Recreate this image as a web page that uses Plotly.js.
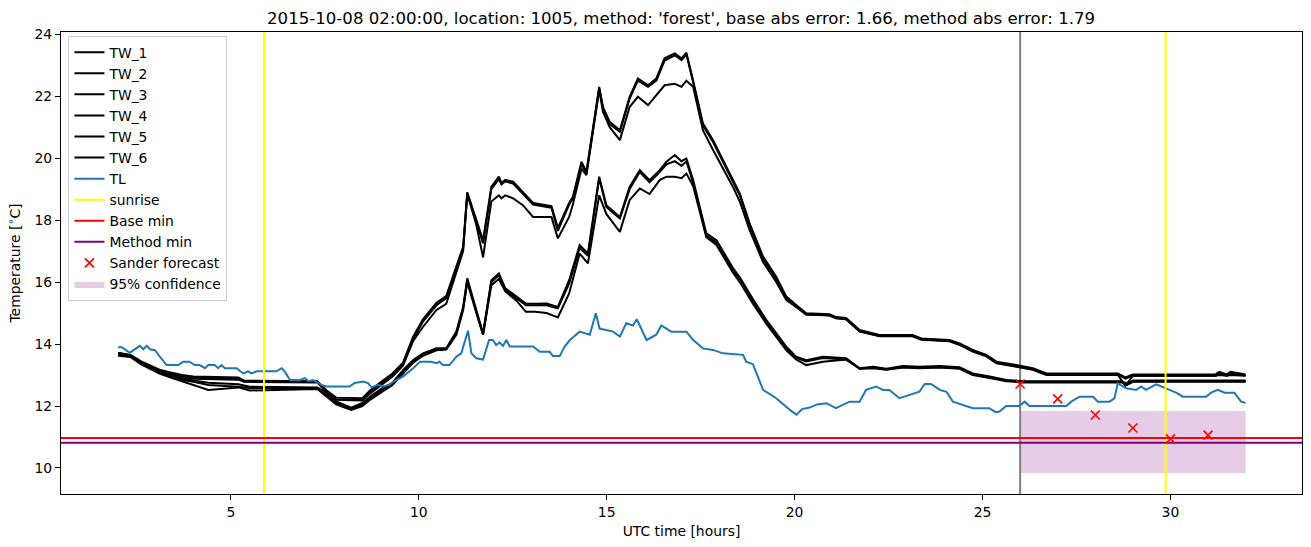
<!DOCTYPE html>
<html>
<head>
<meta charset="utf-8">
<script src="https://cdn.plot.ly/plotly-3.0.1.min.js"></script>
<style>html,body{margin:0;padding:0;background:#fff;}#chart{width:1311px;height:547px;}</style>
</head>
<body>
<div id="chart"></div>
<script>
// ---- group A (upper three TW sensors) vertex times [h]
const twHoursA = [
 2.0,2.33,2.6,2.85,3.1,3.4,3.7,4.0,5.2,5.35,
 7.3,7.55,7.8,8.5,8.7,9.0,9.3,9.58,9.85,10.11,
 10.47,10.73,11.0,11.18,11.29,11.53,11.71,11.93,12.13,12.2,
 12.3,12.51,12.77,13.04,13.53,13.7,14.0,14.1,14.33,14.46,
 14.8,14.9,15.08,15.35,15.61,15.83,16.1,16.32,16.54,16.81,
 16.99,17.12,17.3,17.56,17.83,18.36,18.54,18.8,19.16,19.51,
 19.78,20.04,20.31,20.93,21.1,21.37,21.73,22.26,23.14,23.37,
 24.12,24.39,24.74,25.1,25.37,25.9,26.34,26.7,28.6,28.8,
 29.0,31.2,31.3,31.5,31.6,32.0];
const tw1 = [
 13.72,13.65,13.45,13.3,13.17,13.08,13.0,12.95,12.92,12.82,
 12.8,12.5,12.27,12.25,12.5,12.78,13.05,13.4,14.24,14.8,
 15.33,15.55,16.5,17.14,18.9,18.0,17.35,19.07,19.4,19.2,
 19.3,19.24,18.9,18.55,18.45,17.75,18.55,18.75,19.88,19.56,
 22.3,21.65,21.17,20.9,21.98,22.57,22.35,22.57,23.22,23.38,
 23.22,23.4,22.5,21.12,20.58,19.29,18.86,17.9,16.82,16.17,
 15.53,15.26,14.99,14.96,14.87,14.84,14.45,14.29,14.29,14.18,
 14.13,14.02,13.81,13.65,13.43,13.32,13.22,13.05,13.05,12.92,
 13.02,13.02,13.1,13.02,13.1,13.02];
const tw2 = [
 13.7,13.63,13.42,13.27,13.14,13.05,12.97,12.9,12.88,12.8,
 12.78,12.45,12.22,12.2,12.45,12.72,13.0,13.35,14.15,14.72,
 15.25,15.48,16.42,17.08,18.85,17.92,17.25,19.0,19.32,19.15,
 19.25,19.18,18.85,18.5,18.4,17.65,18.5,18.7,19.82,19.5,
 22.25,21.6,21.1,20.85,21.92,22.5,22.3,22.5,23.15,23.32,
 23.16,23.35,22.45,21.05,20.52,19.22,18.8,17.84,16.76,16.1,
 15.48,15.2,14.95,14.93,14.84,14.8,14.42,14.26,14.26,14.15,
 14.1,13.98,13.78,13.62,13.4,13.28,13.18,13.02,13.02,12.88,
 12.98,12.98,13.05,12.98,13.05,12.98];
const tw3 = [
 13.68,13.6,13.4,13.25,13.12,13.02,12.95,12.88,12.85,12.78,
 12.76,12.42,12.2,12.18,12.4,12.68,12.95,13.3,14.1,14.55,
 15.1,15.3,16.3,17.0,18.85,17.85,16.8,18.6,18.8,18.7,
 18.8,18.7,18.48,18.1,18.1,17.41,18.1,18.5,19.66,19.45,
 22.2,21.5,21.0,20.58,21.65,21.98,21.71,22.03,22.35,22.4,
 22.3,22.5,22.3,20.9,20.26,19.07,18.6,17.68,16.65,16.0,
 15.42,15.2,14.95,14.92,14.83,14.8,14.4,14.25,14.25,14.14,
 14.09,13.97,13.76,13.6,13.38,13.27,13.17,13.0,13.0,12.65,
 12.98,12.98,13.0,12.98,13.0,12.98];

// ---- group B (lower three TW sensors) vertex times [h]
const twHoursB = [
 2.0,2.33,2.6,2.85,3.1,3.4,3.7,4.0,4.4,5.2,
 5.5,7.3,7.55,7.8,8.2,8.5,8.7,9.0,9.3,9.58,
 9.85,10.11,10.47,10.73,11.0,11.18,11.29,11.53,11.71,11.93,
 12.13,12.3,12.6,12.85,13.1,13.4,13.7,14.0,14.28,14.5,
 14.8,14.99,15.35,15.61,15.88,16.14,16.41,16.59,16.81,16.99,
 17.12,17.3,17.65,17.92,18.36,18.54,18.89,19.25,19.51,19.78,
 20.04,20.31,20.75,21.37,21.73,22.09,22.44,22.88,23.32,23.86,
 24.39,24.74,25.19,25.63,26.07,28.7,28.85,29.0,32.0];
const tw4 = [
 13.68,13.63,13.42,13.25,13.12,13.0,12.9,12.82,12.75,12.7,
 12.62,12.6,12.4,12.15,11.95,12.1,12.3,12.55,12.75,13.16,
 13.48,13.7,13.86,13.86,14.4,15.2,16.12,15.1,14.35,16.06,
 16.28,15.8,15.53,15.31,15.3,15.31,15.2,16.06,17.19,16.92,
 19.4,18.48,18.1,19.07,19.61,19.29,19.61,19.88,20.1,19.9,
 19.99,19.29,17.57,17.35,16.45,16.15,15.45,14.77,14.35,13.91,
 13.59,13.48,13.59,13.54,13.22,13.27,13.2,13.29,13.27,13.29,
 13.25,13.05,12.95,12.84,12.8,12.8,12.72,12.82,12.82];
const tw5 = [
 13.65,13.6,13.38,13.22,13.08,12.95,12.85,12.78,12.68,12.62,
 12.58,12.58,12.35,12.1,11.9,12.05,12.25,12.5,12.7,13.1,
 13.42,13.65,13.82,13.84,14.35,15.15,16.05,15.05,14.3,16.0,
 16.22,15.75,15.48,15.25,15.25,15.25,15.15,15.95,17.1,16.85,
 19.35,18.42,18.05,19.0,19.55,19.22,19.55,19.8,19.9,19.75,
 19.9,19.2,17.5,17.28,16.38,16.1,15.4,14.72,14.3,13.86,
 13.55,13.44,13.55,13.5,13.2,13.24,13.18,13.26,13.24,13.26,
 13.22,13.02,12.92,12.82,12.78,12.78,12.7,12.8,12.8];
const tw6 = [
 13.62,13.58,13.35,13.2,13.05,12.92,12.8,12.7,12.52,12.6,
 12.5,12.55,12.3,12.05,11.87,12.0,12.2,12.45,12.68,13.05,
 13.4,13.62,13.8,13.82,14.3,15.1,16.0,15.0,14.3,15.9,
 16.1,15.7,15.4,15.04,15.04,15.0,14.86,15.63,16.92,16.6,
 18.8,18.2,17.62,18.65,19.02,18.84,19.29,19.4,19.4,19.35,
 19.5,19.1,17.45,17.2,16.3,16.0,15.3,14.65,14.25,13.8,
 13.5,13.32,13.43,13.5,13.2,13.22,13.17,13.24,13.22,13.24,
 13.2,13.0,12.9,12.8,12.76,12.76,12.68,12.78,12.78];

// ---- TL (air temperature)
const tlHours = [
 2.0,2.1,2.31,2.45,2.58,2.67,2.76,2.85,2.98,3.11,
 3.29,3.6,3.73,3.9,4.04,4.17,4.31,4.4,4.57,4.66,
 4.75,4.84,5.15,5.33,5.46,5.55,5.68,6.21,6.35,6.44,
 6.57,6.84,6.97,7.06,7.19,7.41,7.55,8.16,8.29,8.52,
 8.65,8.74,8.92,9.04,9.22,9.32,9.58,9.85,10.03,10.33,
 10.47,10.55,10.64,10.82,11.0,11.13,11.2,11.31,11.4,11.53,
 11.71,11.87,11.97,12.06,12.15,12.24,12.33,12.42,13.04,13.22,
 13.48,13.57,13.75,13.88,14.02,14.28,14.55,14.71,14.81,15.17,
 15.35,15.52,15.7,15.8,16.06,16.32,16.45,16.72,17.12,17.3,
 17.56,17.83,18.09,18.63,18.71,18.89,19.16,19.51,19.9,20.05,
 20.2,20.4,20.6,20.84,21.1,21.46,21.73,21.9,22.17,22.35,
 22.52,22.79,23.06,23.32,23.46,23.63,23.86,24.04,24.21,24.48,
 24.74,25.18,25.35,25.45,25.63,25.97,26.12,26.25,27.23,27.36,
 27.58,27.94,28.07,28.38,28.51,28.6,28.82,29.09,29.22,29.35,
 29.62,29.88,30.15,30.33,30.95,31.08,31.26,31.44,31.7,31.88,
 32.0];
const tlValues = [
 13.9,13.9,13.72,13.83,13.94,13.83,13.94,13.83,13.8,13.59,
 13.32,13.32,13.43,13.43,13.32,13.32,13.22,13.32,13.32,13.22,
 13.32,13.22,13.22,13.05,13.12,13.05,13.12,13.12,13.22,13.1,
 12.84,12.84,12.9,12.8,12.84,12.68,12.63,12.63,12.74,12.79,
 12.74,12.6,12.68,12.63,12.68,12.79,12.95,13.22,13.43,13.43,
 13.38,13.43,13.32,13.32,13.59,13.7,14.02,14.43,13.7,13.54,
 13.5,14.13,14.13,13.97,14.05,13.94,14.13,13.92,13.92,13.75,
 13.75,13.61,13.61,13.92,14.13,14.4,14.3,14.99,14.5,14.4,
 14.24,14.67,14.6,14.8,14.13,14.3,14.6,14.4,14.4,14.13,
 13.86,13.81,13.7,13.65,13.43,13.35,12.52,12.25,11.85,11.72,
 11.9,11.95,12.05,12.09,11.93,12.14,12.14,12.52,12.63,12.52,
 12.52,12.25,12.36,12.46,12.71,12.71,12.52,12.46,12.14,12.03,
 11.93,11.93,11.8,11.82,12.0,12.0,12.14,12.0,12.0,12.14,
 12.3,12.3,12.14,12.14,12.25,12.73,12.57,12.52,12.63,12.52,
 12.7,12.57,12.43,12.3,12.3,12.43,12.52,12.43,12.43,12.14,
 12.1];

// ---- reference lines and forecast
const sunriseHours = [5.88, 29.87];
const forecastStart = 26.0;
const baseMin = 10.97;
const methodMin = 10.81;
const sanderHours = [26, 27, 28, 29, 30, 31];
const sanderValues = [12.71, 12.23, 11.71, 11.29, 10.94, 11.06];
const confStart = 26.0, confEnd = 32.0;
const confLower = 9.84, confUpper = 11.84;

const xRange = [0.48, 33.5];
const yRange = [9.16, 24.07];

const traces = [];
// confidence band (drawn first, listed last in legend)
traces.push({
  x: [confStart, confEnd, confEnd, confStart, confStart],
  y: [confLower, confLower, confUpper, confUpper, confLower],
  type: 'scatter', mode: 'lines', fill: 'toself',
  fillcolor: 'rgba(128,0,128,0.2)', line: {width: 0},
  name: '95% confidence', legendrank: 2000, hoverinfo: 'skip'
});
// forecast time marker
traces.push({
  x: [forecastStart, forecastStart], y: yRange, type: 'scatter', mode: 'lines',
  line: {color: 'gray', width: 2}, showlegend: false, hoverinfo: 'skip'
});
const twSets = [[twHoursA, tw1], [twHoursA, tw2], [twHoursA, tw3], [twHoursB, tw4], [twHoursB, tw5], [twHoursB, tw6]];
twSets.forEach((s, i) => {
  traces.push({x: s[0], y: s[1], type: 'scatter', mode: 'lines',
    line: {color: 'black', width: 2}, name: 'TW_' + (i + 1)});
});
traces.push({x: tlHours, y: tlValues, type: 'scatter', mode: 'lines',
  line: {color: '#1f77b4', width: 2}, name: 'TL'});
traces.push({
  x: [sunriseHours[0], sunriseHours[0], null, sunriseHours[1], sunriseHours[1]],
  y: [yRange[0], yRange[1], null, yRange[0], yRange[1]],
  type: 'scatter', mode: 'lines', line: {color: 'yellow', width: 2}, name: 'sunrise'
});
traces.push({x: xRange, y: [baseMin, baseMin], type: 'scatter', mode: 'lines',
  line: {color: 'red', width: 2}, name: 'Base min'});
traces.push({x: xRange, y: [methodMin, methodMin], type: 'scatter', mode: 'lines',
  line: {color: 'purple', width: 2}, name: 'Method min'});
traces.push({x: sanderHours, y: sanderValues, type: 'scatter', mode: 'markers',
  marker: {symbol: 'x-thin', size: 9, color: 'red', line: {color: 'red', width: 1.6}},
  name: 'Sander forecast'});

const FF = 'DejaVu Sans, sans-serif';
const layout = {
  width: 1311, height: 547,
  margin: {l: 61, r: 9, t: 32, b: 53, pad: 0},
  paper_bgcolor: '#fff', plot_bgcolor: '#fff',
  font: {family: FF, size: 13.9, color: '#000'},
  title: {text: "2015-10-08 02:00:00, location: 1005, method: 'forest', base abs error: 1.66, method abs error: 1.79",
    font: {family: FF, size: 16.6, color: '#000'},
    x: 0.5195, xanchor: 'center', y: 0.967, yanchor: 'middle'},
  xaxis: {range: xRange, tickvals: [5, 10, 15, 20, 25, 30], ticktext: ['5','10','15','20','25','30'],
    showgrid: false, zeroline: false, showline: true, mirror: true, linecolor: '#000', linewidth: 1,
    ticks: 'outside', ticklen: 5, tickwidth: 1, tickcolor: '#000',
    tickfont: {family: FF, size: 13.9},
    title: {text: 'UTC time [hours]', font: {family: FF, size: 13.9}, standoff: 7}},
  yaxis: {range: yRange, tickvals: [10, 12, 14, 16, 18, 20, 22, 24],
    showgrid: false, zeroline: false, showline: true, mirror: true, linecolor: '#000', linewidth: 1,
    ticks: 'outside', ticklen: 5, tickwidth: 1, tickcolor: '#000',
    tickfont: {family: FF, size: 13.9},
    title: {text: 'Temperature [<sup>∘</sup>C]', font: {family: FF, size: 13.9}, standoff: 10}},
  legend: {x: 0.006, y: 0.992, xanchor: 'left', yanchor: 'top',
    bgcolor: 'rgba(255,255,255,0.8)', bordercolor: '#cccccc', borderwidth: 1,
    font: {family: FF, size: 13.9}, tracegroupgap: 0},
  showlegend: true
};
Plotly.newPlot('chart', traces, layout, {displayModeBar: false, staticPlot: true});
</script>
</body>
</html>
